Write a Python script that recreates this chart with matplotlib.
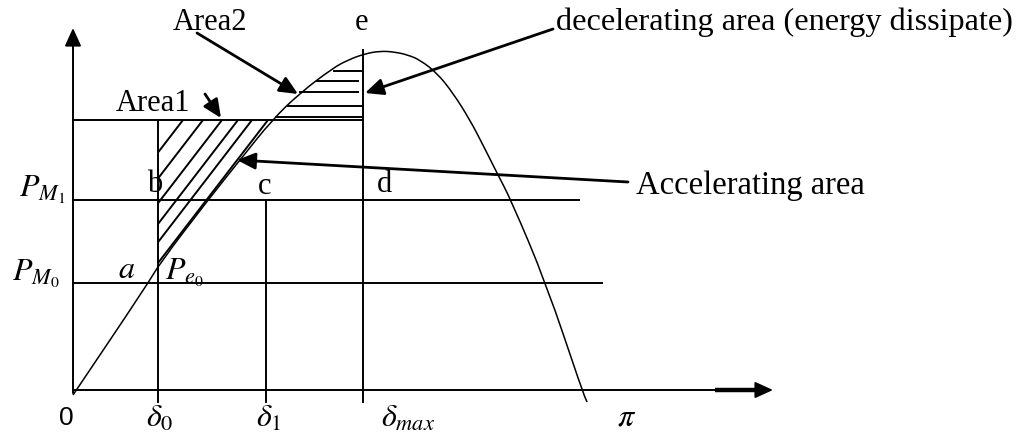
import numpy as np
import matplotlib
matplotlib.use("Agg")
import matplotlib.pyplot as plt
from matplotlib.patches import Polygon, PathPatch
from matplotlib.path import Path

plt.rcParams["font.family"] = "Liberation Serif"
plt.rcParams["mathtext.fontset"] = "stix"

# drawing units: 1 unit = 1 px, y grows downward
AX_X, AX_Y = 73, 390          # origin of the power-angle axes
Y_TIP, X_TIP = 28, 773        # arrow tips of the two axes
TICK_BOTTOM = 402

# horizontal power levels: y, right end
levels_y = [120, 200, 283]
levels_xend = [363, 579, 602]

# angle markers delta_0, delta_1, delta_max: x, top end
marks_x = [158, 266, 363]
marks_top = [120, 200, 50]

curve_x = [73, 147, 160, 208, 240, 272, 300, 333, 348, 364, 380, 395, 408,
           420, 437, 453, 470, 484, 497, 511, 546, 582, 587]
curve_y = [395, 285, 263, 200, 160, 120, 93, 68, 60, 54, 51, 52, 55,
           60, 73, 93, 120, 147, 173, 200, 283, 390, 402]

# accelerating area hatch: where each stroke meets the top level
hatch1_x0 = [183, 203, 222, 238, 252, 268]
HATCH1_SLOPE = 1.3

# decelerating area hatch strokes: y, x start, x end
hatch2_y = [117, 106, 92, 81, 71]
hatch2_x0 = [276, 288, 300, 317, 334]
hatch2_x1 = [363, 363, 358, 358, 362]

# pointer arrows: (tail, tip)
pointers = [
    ((197, 33), (298, 94)),    # Area2
    ((205, 94), (221, 118)),   # Area1
    ((553, 29), (365, 93)),    # decelerating area
    ((628, 182), (237, 160)),  # accelerating area
]

labels = [
    ("Area2", 173, 23, 22), ("e", 355, 23, 22), ("Area1", 116, 103, 22),
    ("decelerating area (energy dissipate)", 556, 22, 23.2),
    ("Accelerating area", 636, 186, 23.5),
    ("b", 147, 184, 22), ("c", 258, 186, 22), ("d", 377, 184, 22),
]
math_labels = [
    (r"$P_{M_1}$", 19, 190), (r"$P_{M_0}$", 12, 274), (r"$a$", 118, 270),
    (r"$P_{e_0}$", 165, 273), (r"$\delta_0$", 146, 419), (r"$\delta_1$", 256, 419),
    (r"$\delta_{max}$", 381, 419), (r"$\pi$", 617, 418),
]

fig = plt.figure(figsize=(10.2, 4.36), dpi=100)
ax = fig.add_axes([0, 0, 1, 1])
ax.set_xlim(0, 1020)
ax.set_ylim(436, 0)
ax.axis("off")

LW = 1.4
head = dict(arrowstyle="-|>,head_length=1.1,head_width=0.5", mutation_scale=10,
            color="k", shrinkA=0, shrinkB=0)

# axes with arrows
ax.annotate("", xy=(AX_X, Y_TIP), xytext=(AX_X, AX_Y + 3),
            arrowprops=dict(lw=LW, **head))
ax.annotate("", xy=(X_TIP, AX_Y), xytext=(AX_X, AX_Y),
            arrowprops=dict(lw=LW, **head))
ax.plot([715, 758], [AX_Y, AX_Y], color="k", lw=3.2, solid_capstyle="butt")

for y, xe in zip(levels_y, levels_xend):
    ax.plot([AX_X, xe], [y, y], color="k", lw=LW)
for x, yt in zip(marks_x, marks_top):
    ax.plot([x, x], [yt, TICK_BOTTOM], color="k", lw=LW)

# smooth the read points with quadratic segments (points act as controls)
pts = np.column_stack([curve_x, curve_y]).astype(float)
mids = (pts[:-1] + pts[1:]) / 2
verts = [pts[0], mids[0]]
codes = [Path.MOVETO, Path.LINETO]
for i in range(1, len(pts) - 1):
    verts += [pts[i], mids[i]]
    codes += [Path.CURVE3, Path.CURVE3]
verts.append(pts[-1])
codes.append(Path.LINETO)
ax.add_patch(PathPatch(Path(verts, codes), fc="none", ec="k", lw=1.1))

# clip region for the accelerating-area hatch
cx, cy = pts[:, 0], pts[:, 1]
inside = (cx > marks_x[0]) & (cy >= levels_y[0]) & (cx < cx[np.argmin(cy)])
y_at_d0 = np.interp(marks_x[0], cx[:5], cy[:5])
clip_verts = ([(marks_x[0], levels_y[0])]
              + list(zip(cx[inside][::-1], cy[inside][::-1]))
              + [(marks_x[0], y_at_d0)])
clip = Polygon(clip_verts, closed=True, transform=ax.transData, fc="none", ec="none")
ax.add_patch(clip)
for x0 in hatch1_x0:
    ln, = ax.plot([x0, x0 - 200], [levels_y[0], levels_y[0] + 200 * HATCH1_SLOPE],
                  color="k", lw=LW)
    ln.set_clip_path(clip)

for y, x0, x1 in zip(hatch2_y, hatch2_x0, hatch2_x1):
    ax.plot([x0, x1], [y, y], color="k", lw=LW)

for tail, tip in pointers:
    ax.annotate("", xy=tip, xytext=tail, arrowprops=dict(lw=2.0, **head))

for txt, x, y, fs in labels:
    ax.text(x, y, txt, fontsize=fs, ha="left", va="center")
for txt, x, y in math_labels:
    ax.text(x, y, txt, fontsize=23, ha="left", va="center")
ax.text(59, 418, "0", fontsize=19, family="Liberation Sans", ha="left", va="center")

fig.savefig("out.png", dpi=100)
